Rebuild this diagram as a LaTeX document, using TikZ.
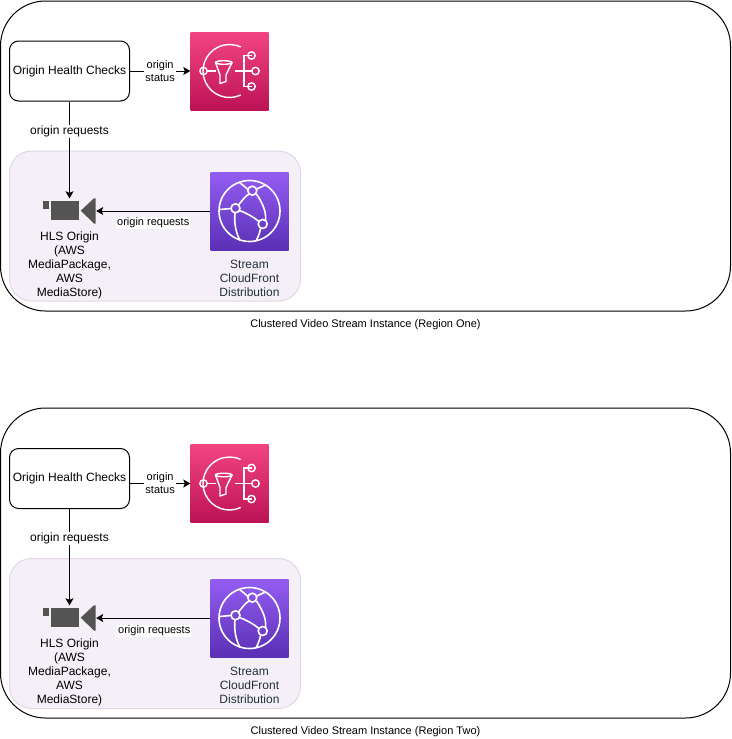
\documentclass[tikz,border=0pt]{standalone}
\usepackage{fontspec}
\setmainfont{Liberation Sans}
\usetikzlibrary{arrows.meta}
\definecolor{regionline}{HTML}{000000}
\definecolor{groupfill}{HTML}{F5F0F7}
\definecolor{groupline}{HTML}{E1D5E7}
\definecolor{camgray}{HTML}{545454}
\definecolor{icontext}{HTML}{232F3E}
\tikzset{
  regionbox/.style={rectangle, draw=regionline, line width=1pt, rounded corners=45pt, minimum width=730pt, minimum height=310pt, inner sep=0pt},
  groupbox/.style={rectangle, draw=groupline, fill=groupfill, line width=1pt, rounded corners=22pt, minimum width=291pt, minimum height=150pt, inner sep=0pt},
  checkbox/.style={rectangle, draw, line width=1pt, rounded corners=9pt, minimum width=120pt, minimum height=60pt, inner sep=0pt, font=\fontsize{12}{14}\selectfont},
  snsbox/.style={rectangle, minimum size=78pt, inner sep=0pt, top color=snstop, bottom color=snsbottom},
  cfbox/.style={rectangle, minimum size=78pt, inner sep=0pt, top color=cftop, bottom color=cfbottom},
  cambox/.style={rectangle, minimum width=53pt, minimum height=25pt, inner sep=0pt},
  icontxt/.style={align=center, text=icontext, font=\fontsize{12}{14}\selectfont},
  camtxt/.style={align=center, font=\fontsize{12}{14}\selectfont},
  captiontxt/.style={font=\fontsize{11}{13}\selectfont},
  flowline/.style={-{Stealth[length=7pt,width=8pt,inset=1.5pt]}, line width=1pt},
  biglabel/.style={fill=white, inner sep=1pt, font=\fontsize{12}{14}\selectfont},
  smalllabel/.style={fill=white, inner sep=1pt, align=center, font=\fontsize{11}{13}\selectfont},
  snsglyph/.pic={
    \draw[white, line width=1.4pt] (65:26.5) arc[start angle=65, end angle=295, radius=26.5];
    \draw[white, line width=1.4pt] (-22.3,0) -- (-14,0) (5,0) -- (22.3,0);
    \draw[white, line width=1.4pt] (22,-15.5) -- (14.5,-15.5) -- (14.5,15.5) -- (22,15.5);
    \draw[white, line width=1.4pt, line join=round] (-14,-8.5) -- (-9.5,4) -- (-9.5,12.5) -- (-3.5,10.5) -- (-3.5,4) -- (2.5,-8.5);
    \draw[white, line width=1.4pt] (-5.75,-8.5) ellipse[x radius=8.25, y radius=1.8];
    \foreach \px/\py in {-26/0, 22/-15.5, 26/0, 22/15.5}
      \draw[white, line width=1.4pt] (\px,\py) circle[radius=3.7];
  },
  cfglyph/.pic={
    \draw[white, line width=1.6pt] (0,0) circle[radius=30.5];
    \draw[white, line width=1.6pt] (-30,-1.5) -- (-18.5,-2.5);
    \draw[white, line width=1.6pt] (-10.5,-29) .. controls (-7,-26) and (-4,-24) .. (-1.5,-21.5);
    \draw[white, line width=1.6pt] (7.3,-22) .. controls (10,-23) and (13,-25) .. (16,-26);
    \draw[white, line width=1.6pt] (-11,-6) .. controls (-7,-11) and (-4,-15) .. (-0.5,-17);
    \draw[white, line width=1.6pt] (-10,-0.5) .. controls (-3,2) and (4,6) .. (9.5,10.5);
    \draw[white, line width=1.6pt] (7,-17) .. controls (13,-8) and (17,1) .. (16,9);
    \draw[white, line width=1.6pt] (-14.5,2) .. controls (-15.5,11) and (-14,21) .. (-9.5,29.5);
    \draw[white, line width=1.6pt] (11,17.5) .. controls (10.5,21) and (9,25) .. (7,29);
    \foreach \px/\py in {2.8/-20.3, -14/-2.7, 13.2/13}
      \draw[white, line width=1.6pt] (\px,\py) circle[radius=4.5];
  },
  camglyph/.pic={
    \fill[camgray] (-26.2,-10) rectangle (-20.5,-2);
    \fill[camgray] (-18.5,-10) rectangle (9.5,9);
    \fill[camgray] (11.2,-0.3) -- (24.5,-12.7) -- (26.2,-12.7) -- (26.2,12.5) -- (24.5,12.5) -- cycle;
  }
}
\colorlet{snstop}{white}
\definecolor{snstop}{HTML}{F34482}
\definecolor{snsbottom}{HTML}{BC1356}
\definecolor{cftop}{HTML}{945DF2}
\definecolor{cfbottom}{HTML}{5A30B5}
\begin{document}
\begin{tikzpicture}[x=1pt, y=-1pt, node distance=100pt]
\useasboundingbox (0,0) rectangle (731,739);

% region one
\node[regionbox] (region1) at (365.5,156) {};
\node[groupbox] (group1) at (155,226) {};
\node[checkbox] (health1) at (69.5,71) {Origin Health Checks};
\node[snsbox, right of=health1, node distance=160pt] (sns1) {};
\node[cambox, below of=health1, node distance=140pt] (cam1) {};
\node[cfbox, right of=cam1, node distance=180pt] (cf1) {};
\pic at (sns1) {snsglyph};
\pic at (cam1) {camglyph};
\pic at (cf1) {cfglyph};
\node[camtxt, below of=cam1, node distance=54pt] (hls1) {HLS Origin\\(AWS\\MediaPackage,\\AWS\\MediaStore)};
\node[icontxt, below of=cf1, node distance=67pt] (stream1) {Stream\\CloudFront\\Distribution};
\node[captiontxt, below of=region1, node distance=169pt] (caption1) {Clustered Video Stream Instance (Region One)};

\draw[flowline] (health1) -- node[smalllabel] (status1) {origin\\status} (sns1);
\draw[flowline] (health1) -- node[biglabel, pos=0.31] (req1) {origin requests} (cam1);
\draw[flowline] (cf1) -- node[smalllabel, below=5pt] (edge1) {origin requests} (cam1);

% region two
\node[regionbox] (region2) at (365.5,563) {};
\node[groupbox] (group2) at (155,633.5) {};
\node[checkbox] (health2) at (69.5,478.5) {Origin Health Checks};
\node[snsbox, right of=health2, node distance=160pt, yshift=-5pt] (sns2) {};
\node[cambox, below of=health2, node distance=139.5pt] (cam2) {};
\node[cfbox, right of=cam2, node distance=180pt] (cf2) {};
\pic at (sns2) {snsglyph};
\pic at (cam2) {camglyph};
\pic at (cf2) {cfglyph};
\node[camtxt, below of=cam2, node distance=54pt] (hls2) {HLS Origin\\(AWS\\MediaPackage,\\AWS\\MediaStore)};
\node[icontxt, below of=cf2, node distance=67pt] (stream2) {Stream\\CloudFront\\Distribution};
\node[captiontxt, below of=region2, node distance=169pt] (caption2) {Clustered Video Stream Instance (Region Two)};

\draw[flowline] (health2.east |- sns2.west) -- node[smalllabel] (status2) {origin\\status} (sns2.west);
\draw[flowline] (health2) -- node[biglabel, pos=0.31] (req2) {origin requests} (cam2);
\draw[flowline] (cf2) -- node[smalllabel, below=6pt, xshift=1pt] (edge2) {origin requests} (cam2);
\end{tikzpicture}
\end{document}
